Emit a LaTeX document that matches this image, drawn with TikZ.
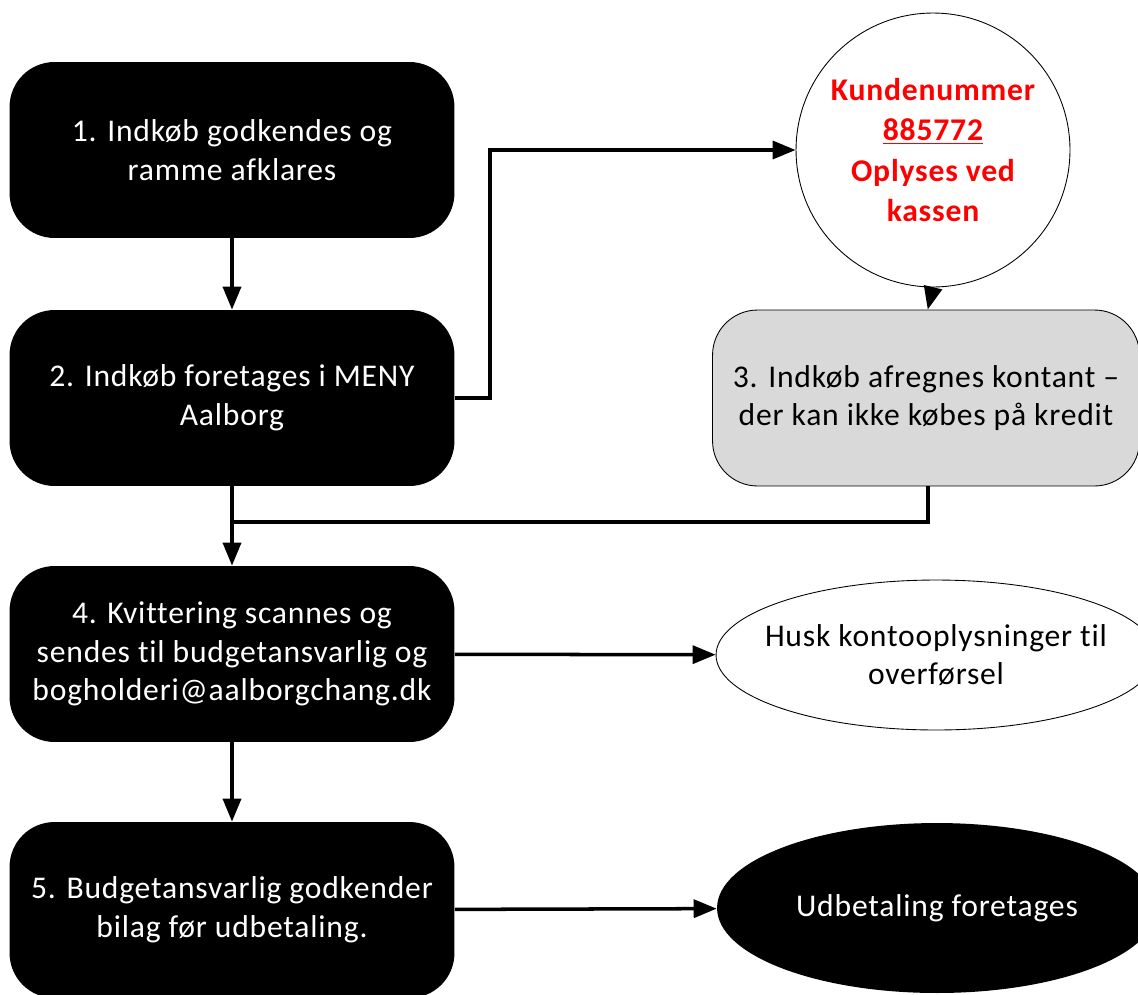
\documentclass[tikz,border=0pt]{standalone}
\usepackage{fontspec}
\setmainfont{Carlito}[Ligatures=NoCommon, LetterSpace=2.5]
\usetikzlibrary{arrows.meta}
\usetikzlibrary{shapes.geometric}

\tikzset{
  stepbox/.style={rectangle, rounded corners=0.9cm, fill=black, text=white,
    minimum width=8.9cm, minimum height=3.52cm, align=center,
    font=\fontsize{18}{22}\selectfont},
  graybox/.style={stepbox, fill={rgb,255:red,217;green,217;blue,217}, draw=black,
    line width=0.5pt, text=black},
  flow/.style={line width=2pt, -{Triangle[length=0.46cm,width=0.36cm]}},
  joinline/.style={line width=2pt},
}

\begin{document}
\begin{tikzpicture}[x=0.02cm, y=-0.02cm]
    \useasboundingbox (0,0) rectangle (1138,994);
    \node[stepbox] (indkob) at (232,150) {1. Indkøb godkendes og\\ramme afklares};
    \node[stepbox] (meny) at (232,398) {2. Indkøb foretages i MENY\\Aalborg};
    \node[stepbox] (kvit) at (232,654) {4. Kvittering scannes og\\sendes til budgetansvarlig og\\bogholderi@aalborgchang.dk};
    \node[stepbox] (budget) at (232,910) {5. Budgetansvarlig godkender\\bilag før udbetaling.};
    \node[circle, draw, line width=0.5pt, minimum size=5.48cm, align=center,
          text=red, font=\bfseries\fontsize{18}{23}\selectfont]
          (kunde) at (933,150) {Kundenummer\\\underline{885772}\\Oplyses ved\\kassen};
    \node[graybox, minimum width=8.54cm] (kontant) at (926,398)
          {3. Indkøb afregnes kontant --\\der kan ikke købes på kredit};
    \node[ellipse, draw, line width=0.5pt, minimum width=8.8cm, minimum height=3cm,
          inner xsep=-0.5cm, align=center, font=\fontsize{18}{22}\selectfont]
          (husk) at (936,655) {Husk kontooplysninger til\\overførsel};
    \node[ellipse, fill=black, text=white, minimum width=8.8cm, minimum height=3.4cm,
          font=\fontsize{18}{22}\selectfont]
          (udbet) at (937,908) {Udbetaling foretages};

    \coordinate (knee) at (490,398);
    \coordinate (merge) at (232,522);
    \draw[flow] (indkob) -- (meny);
    \draw[flow] (meny.east) -- (knee) |- (kunde.west);
    \draw[flow] (kunde.south) -- ([xshift=-3]kunde.south |- kontant.north);
    \draw[joinline] ([xshift=-3]kunde.south |- kontant.south) |- (merge);
    \draw[flow] (meny) -- (kvit);
    \draw[flow] (kvit) -- (husk);
    \draw[flow] (kvit) -- (kvit.south |- budget.north);
    \draw[flow] (budget) -- (udbet);
\end{tikzpicture}
\end{document}
